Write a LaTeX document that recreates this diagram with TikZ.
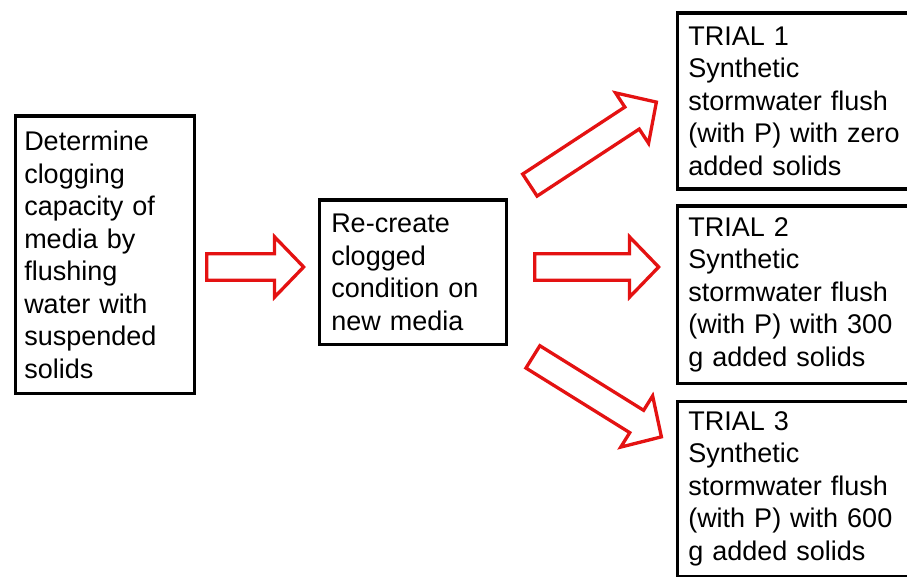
\documentclass[tikz,border=0pt]{standalone}
\usepackage{fontspec}
\setmainfont{Liberation Sans}
\usetikzlibrary{shapes.arrows,calc}
\definecolor{arrred}{RGB}{228,18,18}
\begin{document}
\begin{tikzpicture}[x=1pt,y=-1pt,
  box/.style={draw=black,line width=3.5pt,rectangle,anchor=north west,align=left,
    inner ysep=0pt,font=\fontsize{27}{32.5}\selectfont},
  blockarrow/.style={single arrow,draw=arrred,fill=white,line width=3.3pt,
    inner xsep=0pt,inner ysep=11.5pt,minimum width=0pt,
    single arrow head extend=17pt,single arrow tip angle=92,
    sloped,anchor=tail,pos=0}
]
\useasboundingbox (0,0) rectangle (907,577);

\node[box,inner xsep=9pt,text width=161pt,minimum width=179pt,minimum height=277pt]
  (det) at (13.5,114.5) {Determine\\clogging\\capacity of\\media by\\flushing\\water with\\suspended\\solids};
\node[box,inner xsep=12pt,text width=163pt,minimum width=187pt,minimum height=144pt]
  (rec) at (317.5,198.5) {Re-create\\clogged\\condition on\\new media};
\node[box,inner xsep=11pt,text width=238pt,minimum width=260pt,minimum height=176pt]
  (t1) at (675.5,11.5) {TRIAL 1\\Synthetic\\stormwater flush\\(with P) with zero\\added solids};
\node[box,inner xsep=11pt,text width=238pt,minimum width=260pt,minimum height=177pt]
  (t2) at (675.5,204.5) {TRIAL 2\\Synthetic\\stormwater flush\\(with P) with 300\\g added solids};
\node[box,inner xsep=11pt,text width=238pt,minimum width=260pt,minimum height=175pt]
  (t3) at (675.5,399.5) {TRIAL 3\\Synthetic\\stormwater flush\\(with P) with 600\\g added solids};

\coordinate (a1s) at (205,267);   \coordinate (a1e) at (302,267);
\coordinate (a2s) at (533,267);   \coordinate (a2e) at (657,267);
\coordinate (a3s) at (528.5,186); \coordinate (a3e) at (655,103);
\coordinate (a4s) at (531.5,356); \coordinate (a4e) at (660,436);

\foreach \s/\e in {a1s/a1e,a2s/a2e,a3s/a3e,a4s/a4e}{
  \path let \p1=($(\e)-(\s)$), \n1={veclen(\x1,\y1)} in
    (\s) -- (\e) node[blockarrow,minimum height=\n1] {};
}
\end{tikzpicture}
\end{document}
